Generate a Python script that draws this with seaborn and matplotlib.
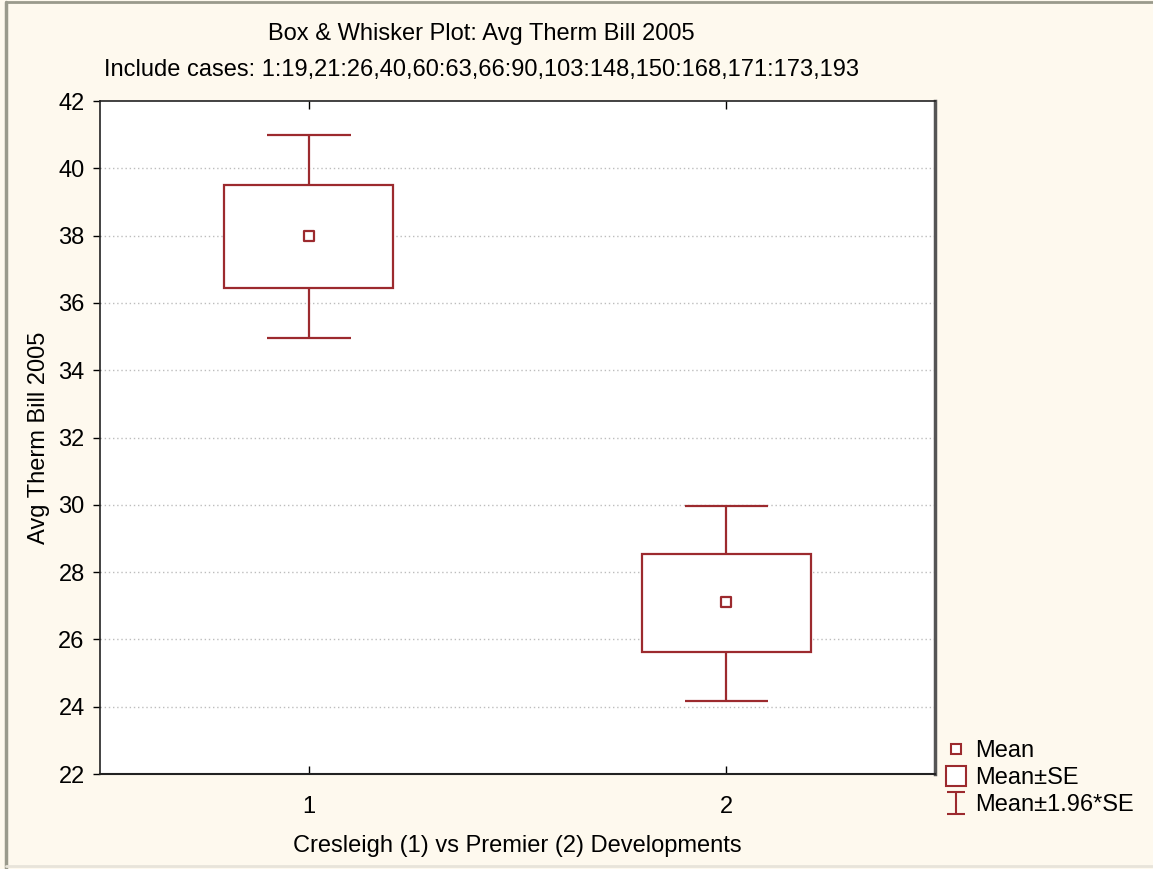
import numpy as np
import pandas as pd
import matplotlib
matplotlib.use("Agg")
import matplotlib.pyplot as plt
import seaborn as sns
from matplotlib.lines import Line2D
from matplotlib.path import Path

# ---- data ----
groups = [1, 2]
means = [38.0, 27.1]
se_lo = [36.45, 25.63]
se_hi = [39.5, 28.55]
ci_lo = [34.96, 24.18]
ci_hi = [40.98, 29.97]
y_ticks = [22, 24, 26, 28, 30, 32, 34, 36, 38, 40, 42]

title1 = "Box & Whisker Plot: Avg Therm Bill 2005"
title2 = "Include cases: 1:19,21:26,40,60:63,66:90,103:148,150:168,171:173,193"
xlabel = "Cresleigh (1) vs Premier (2) Developments"
ylabel = "Avg Therm Bill 2005"
legend_labels = ["Mean", "Mean\u00b1SE", "Mean\u00b11.96*SE"]

df = pd.DataFrame({"group": groups, "mean": means, "se_lo": se_lo, "se_hi": se_hi,
                   "ci_lo": ci_lo, "ci_hi": ci_hi})

sns.set_theme(style="white")
plt.rcParams['font.family'] = ['Liberation Sans', 'DejaVu Sans']
plt.rcParams['text.color'] = 'black'
plt.rcParams['axes.labelcolor'] = 'black'

RED = '#9C2A2E'
BG = '#FEF9EE'
FS = 17

fig = plt.figure(figsize=(11.53, 8.69), dpi=100, facecolor=BG)
ax = fig.add_axes([100/1153, 1-774/869, 835/1153, 673/869])
ax.set_facecolor('white')

# grid
for yt in y_ticks[1:-1]:
    ax.axhline(yt, color='#BDBDBD', lw=1.0, ls=(0, (1, 2)), zorder=0)

# whiskers
ax.vlines(df["group"], df["se_hi"], df["ci_hi"], color=RED, lw=1.6, zorder=2)
ax.vlines(df["group"], df["ci_lo"], df["se_lo"], color=RED, lw=1.6, zorder=2)
ax.hlines(df["ci_hi"], df["group"] - 0.1, df["group"] + 0.1, color=RED, lw=1.6, zorder=2)
ax.hlines(df["ci_lo"], df["group"] - 0.1, df["group"] + 0.1, color=RED, lw=1.6, zorder=2)
# boxes
ax.bar(df["group"], df["se_hi"] - df["se_lo"], bottom=df["se_lo"], width=0.404,
       facecolor='white', edgecolor=RED, lw=1.6, zorder=3)
# means
sns.scatterplot(data=df, x="group", y="mean", marker='s', s=60, facecolor='white',
                edgecolor=RED, linewidth=1.6, ax=ax, zorder=4, legend=False)

ax.set_xlim(0.5, 2.5)
ax.set_ylim(22, 42)
ax.set_yticks(y_ticks)
ax.set_xticks(groups)
ax.set_xticklabels([str(g) for g in groups])
ax.tick_params(axis='y', direction='out', length=5, width=1, labelsize=FS, pad=6, left=True,
               colors='black')
ax.tick_params(axis='x', direction='in', length=6, width=1, labelsize=FS, pad=16, top=True,
               bottom=True, colors='black')
ax.set_xlabel(xlabel, fontsize=FS, labelpad=12)
ax.set_ylabel(ylabel, fontsize=FS, labelpad=6)

for side in ['left', 'top', 'bottom']:
    ax.spines[side].set_color('#222222')
    ax.spines[side].set_linewidth(1.2)
ax.spines['right'].set_color('#555555')
ax.spines['right'].set_linewidth(2.5)
ax.spines['bottom'].set_linewidth(1.5)

fig.text(481/1153, 1-34/869, title1, ha='center', va='center', fontsize=FS)
fig.text(481/1153, 1-70/869, title2, ha='center', va='center', fontsize=FS)

# legend
ibeam = Path([(-0.8, 1), (0.8, 1), (0, 1), (0, -1), (-0.8, -1), (0.8, -1)],
             [Path.MOVETO, Path.LINETO, Path.MOVETO, Path.LINETO, Path.MOVETO, Path.LINETO])
handles = [
    Line2D([], [], ls='none', marker='s', markersize=7, markerfacecolor='white',
           markeredgecolor=RED, markeredgewidth=1.5),
    Line2D([], [], ls='none', marker='s', markersize=14.5, markerfacecolor='white',
           markeredgecolor=RED, markeredgewidth=1.5),
    Line2D([], [], ls='none', marker=ibeam, markersize=16.5, color=RED, markeredgewidth=1.5),
]
fig.legend(handles, legend_labels, loc='upper left', bbox_to_anchor=(944/1153, 1-740/869),
           frameon=False, fontsize=FS, handlelength=1.0, handletextpad=0.3,
           labelspacing=0.22, borderaxespad=0, borderpad=0)

# figure border
fig.add_artist(Line2D([6/1153, 6/1153], [0, 1-2/869], color='#9A9A8C', lw=2.5))
fig.add_artist(Line2D([6/1153, 1], [1-2/869, 1-2/869], color='#9A9A8C', lw=2))
fig.add_artist(Line2D([6/1153, 1], [3/869, 3/869], color='#E8E4DA', lw=2))

fig.savefig("out.png", dpi=100, facecolor=BG)
